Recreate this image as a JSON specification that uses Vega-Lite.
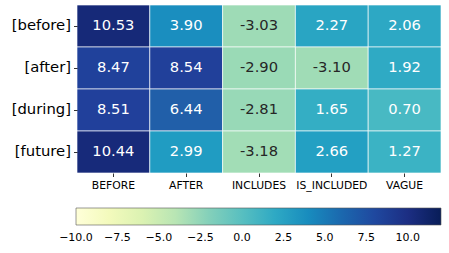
{
  "$schema": "https://vega.github.io/schema/vega-lite/v6.json",
  "width": 364,
  "height": 168,
  "autosize": {"type": "none"},
  "padding": {"left": 77, "top": 5, "right": 8, "bottom": 80},
  "background": "white",
  "data": {
    "values": [
      {"row": "[before]", "col": "BEFORE", "value": 10.53},
      {"row": "[before]", "col": "AFTER", "value": 3.90},
      {"row": "[before]", "col": "INCLUDES", "value": -3.03},
      {"row": "[before]", "col": "IS_INCLUDED", "value": 2.27},
      {"row": "[before]", "col": "VAGUE", "value": 2.06},
      {"row": "[after]", "col": "BEFORE", "value": 8.47},
      {"row": "[after]", "col": "AFTER", "value": 8.54},
      {"row": "[after]", "col": "INCLUDES", "value": -2.90},
      {"row": "[after]", "col": "IS_INCLUDED", "value": -3.10},
      {"row": "[after]", "col": "VAGUE", "value": 1.92},
      {"row": "[during]", "col": "BEFORE", "value": 8.51},
      {"row": "[during]", "col": "AFTER", "value": 6.44},
      {"row": "[during]", "col": "INCLUDES", "value": -2.81},
      {"row": "[during]", "col": "IS_INCLUDED", "value": 1.65},
      {"row": "[during]", "col": "VAGUE", "value": 0.70},
      {"row": "[future]", "col": "BEFORE", "value": 10.44},
      {"row": "[future]", "col": "AFTER", "value": 2.99},
      {"row": "[future]", "col": "INCLUDES", "value": -3.18},
      {"row": "[future]", "col": "IS_INCLUDED", "value": 2.66},
      {"row": "[future]", "col": "VAGUE", "value": 1.27}
    ]
  },
  "transform": [
    {"calculate": "replace(format(datum.value, '.2f'), '\u2212', '-')", "as": "label"}
  ],
  "encoding": {
    "x": {
      "field": "col", "type": "nominal",
      "sort": ["BEFORE", "AFTER", "INCLUDES", "IS_INCLUDED", "VAGUE"],
      "scale": {"paddingInner": 0, "paddingOuter": 0},
      "axis": {
        "title": null, "labelAngle": 0, "domain": false,
        "tickSize": 3.5, "tickColor": "black", "tickWidth": 0.8,
        "labelFontSize": 10.8, "labelColor": "black", "labelPadding": 3
      }
    },
    "y": {
      "field": "row", "type": "nominal",
      "sort": ["[before]", "[after]", "[during]", "[future]"],
      "scale": {"paddingInner": 0, "paddingOuter": 0},
      "axis": {
        "title": null, "domain": false,
        "tickSize": 3.5, "tickColor": "black", "tickWidth": 0.8,
        "labelFontSize": 14.8, "labelColor": "black", "labelPadding": 3
      }
    }
  },
  "layer": [
    {
      "mark": {"type": "rect", "stroke": "white", "strokeWidth": 0.8, "strokeOpacity": 0.8},
      "encoding": {
        "color": {
          "field": "value", "type": "quantitative",
          "scale": {
            "domain": [-10, -7.25, -4.5, -1.75, 1, 3.75, 6.5, 9.25, 12],
            "range": ["#ffffd9", "#edf8b1", "#c7e9b4", "#7fcdbb", "#41b6c4", "#1d91c0", "#225ea8", "#253494", "#081d58"]
          },
          "legend": {
            "orient": "none",
            "direction": "horizontal",
            "legendX": -1,
            "legendY": 203,
            "title": null,
            "padding": 0,
            "gradientLength": 365,
            "gradientThickness": 17,
            "gradientStrokeColor": "#555",
            "gradientStrokeWidth": 0.6,
            "values": [-10, -7.5, -5, -2.5, 0, 2.5, 5, 7.5, 10],
            "labelExpr": "replace(format(datum.value, '.1f'), '-', '\u2212')",
            "labelAlign": "center",
            "labelOverlap": false,
            "labelFontSize": 11,
            "labelColor": "black",
            "labelOffset": 7,
            "encode": {
              "labels": {"update": {"align": {"value": "center"}}}
            }
          }
        }
      }
    },
    {
      "mark": {"type": "text", "fontSize": 14.7},
      "encoding": {
        "text": {"field": "label", "type": "nominal"},
        "color": {
          "condition": {"test": "datum.value < 0", "value": "#262626"},
          "value": "white"
        }
      }
    }
  ],
  "config": {
    "font": "DejaVu Sans",
    "view": {"stroke": null}
  }
}
